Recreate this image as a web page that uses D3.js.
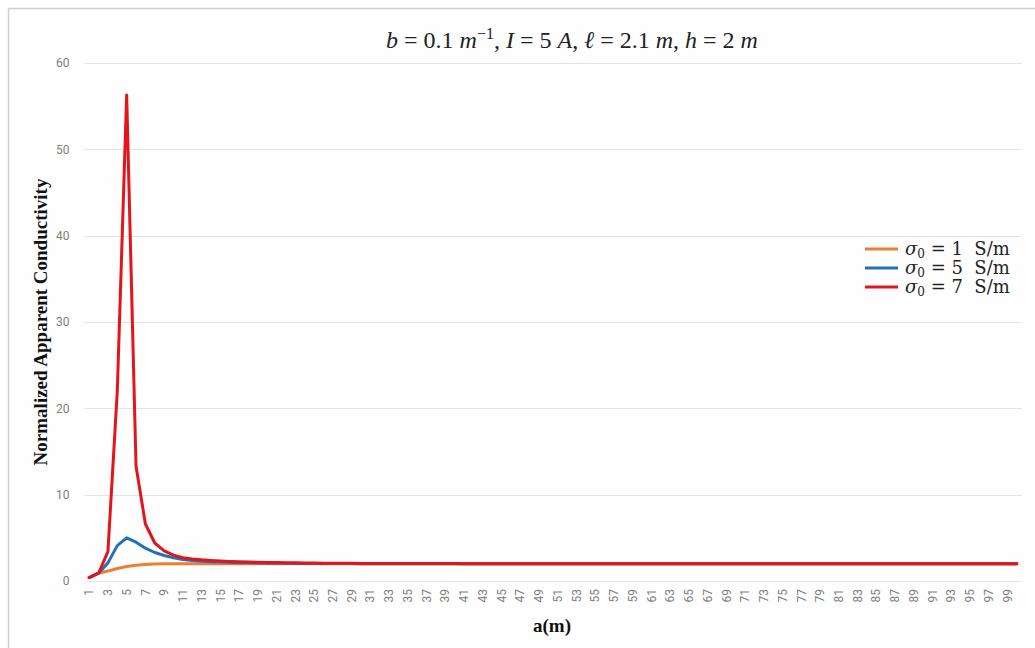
<!DOCTYPE html>
<html>
<head>
<meta charset="utf-8">
<script src="https://cdn.jsdelivr.net/npm/d3@7"></script>
<style>
  body { margin: 0; background: #fff; }
  svg { display: block; }
  .tick-label { font-family: "Liberation Sans Narrow", "Roboto", sans-serif; font-size: 12px; fill: #808080; }
</style>
</head>
<body>
<div id="chart"></div>
<script>
// a (m) from 1 to 100
const categories = [
  1,2,3,4,5,6,7,8,9,10,11,12,13,14,15,16,17,18,19,20,
  21,22,23,24,25,26,27,28,29,30,31,32,33,34,35,36,37,38,39,40,
  41,42,43,44,45,46,47,48,49,50,51,52,53,54,55,56,57,58,59,60,
  61,62,63,64,65,66,67,68,69,70,71,72,73,74,75,76,77,78,79,80,
  81,82,83,84,85,86,87,88,89,90,91,92,93,94,95,96,97,98,99,100
];

const sigma1 = [
  0.4,0.9,1.15,1.45,1.68,1.83,1.92,1.97,1.99,2.0,
  2.0,2.0,2.0,2.0,2.0,2.0,2.0,2.0,2.0,2.0,
  2.0,2.0,2.0,2.0,2.0,2.0,2.0,2.0,2.0,2.0,
  2.0,2.0,2.0,2.0,2.0,2.0,2.0,2.0,2.0,2.0,
  2.0,2.0,2.0,2.0,2.0,2.0,2.0,2.0,2.0,2.0,
  2.0,2.0,2.0,2.0,2.0,2.0,2.0,2.0,2.0,2.0,
  2.0,2.0,2.0,2.0,2.0,2.0,2.0,2.0,2.0,2.0,
  2.0,2.0,2.0,2.0,2.0,2.0,2.0,2.0,2.0,2.0,
  2.0,2.0,2.0,2.0,2.0,2.0,2.0,2.0,2.0,2.0,
  2.0,2.0,2.0,2.0,2.0,2.0,2.0,2.0,2.0,2.0
];

const sigma5 = [
  0.4,0.9,2.1,4.1,5.0,4.5,3.8,3.3,2.95,2.7,
  2.5,2.38,2.3,2.24,2.19,2.15,2.12,2.1,2.08,2.07,
  2.06,2.05,2.04,2.04,2.03,2.03,2.02,2.02,2.02,2.01,
  2.01,2.01,2.01,2.01,2.01,2.01,2.01,2.01,2.01,2.01,
  2.0,2.0,2.0,2.0,2.0,2.0,2.0,2.0,2.0,2.0,
  2.0,2.0,2.0,2.0,2.0,2.0,2.0,2.0,2.0,2.0,
  2.0,2.0,2.0,2.0,2.0,2.0,2.0,2.0,2.0,2.0,
  2.0,2.0,2.0,2.0,2.0,2.0,2.0,2.0,2.0,2.0,
  2.0,2.0,2.0,2.0,2.0,2.0,2.0,2.0,2.0,2.0,
  2.0,2.0,2.0,2.0,2.0,2.0,2.0,2.0,2.0,2.0
];

const sigma7 = [
  0.4,0.9,3.4,22.0,56.3,13.3,6.6,4.4,3.5,3.0,
  2.7,2.55,2.45,2.38,2.32,2.27,2.23,2.2,2.17,2.15,
  2.13,2.11,2.1,2.09,2.08,2.07,2.06,2.05,2.05,2.04,
  2.04,2.03,2.03,2.03,2.03,2.02,2.02,2.02,2.02,2.02,
  2.01,2.01,2.01,2.01,2.01,2.01,2.01,2.01,2.01,2.01,
  2.01,2.01,2.01,2.01,2.01,2.01,2.01,2.01,2.01,2.01,
  2.0,2.0,2.0,2.0,2.0,2.0,2.0,2.0,2.0,2.0,
  2.0,2.0,2.0,2.0,2.0,2.0,2.0,2.0,2.0,2.0,
  2.0,2.0,2.0,2.0,2.0,2.0,2.0,2.0,2.0,2.0,
  2.0,2.0,2.0,2.0,2.0,2.0,2.0,2.0,2.0,2.0
];

const yTicks = [0, 10, 20, 30, 40, 50, 60];

const series = [
  { sigma: "1", values: sigma1, color: "#ed7d31" },
  { sigma: "5", values: sigma5, color: "#2372b9" },
  { sigma: "7", values: sigma7, color: "#e3141c" }
];

const width = 1035;
const height = 648;
const margin = { top: 63, right: 13.5, bottom: 67, left: 84.5 };

const svg = d3.select("#chart")
  .append("svg")
  .attr("width", width)
  .attr("height", height);

// chart frame (only top and left edges are inside the picture)
svg.append("rect")
  .attr("x", 8.5)
  .attr("y", 8.5)
  .attr("width", width + 10)
  .attr("height", height + 10)
  .attr("fill", "#fefefe")
  .attr("stroke", "#cfcfcf")
  .attr("stroke-width", 1.5);

const x = d3.scaleBand()
  .domain(categories)
  .range([margin.left, width - margin.right]);

const y = d3.scaleLinear()
  .domain([0, 60])
  .range([height - margin.bottom, margin.top]);

// gridlines
svg.append("g")
  .selectAll("line")
  .data(yTicks)
  .enter().append("line")
  .attr("x1", margin.left)
  .attr("x2", width - margin.right)
  .attr("y1", d => Math.round(y(d)) + 0.5)
  .attr("y2", d => Math.round(y(d)) + 0.5)
  .style("stroke", "#e4e4e4")
  .style("stroke-width", 1);

// y axis labels
const yAxis = svg.append("g")
  .attr("transform", `translate(${margin.left},0)`)
  .call(d3.axisLeft(y).tickValues(yTicks).tickSize(0).tickPadding(15));
yAxis.select(".domain").remove();
yAxis.selectAll("text")
  .attr("class", "tick-label")
  .attr("fill", null);

// x axis labels, every other category, rotated
const xAxis = svg.append("g")
  .attr("transform", `translate(0,${height - margin.bottom})`)
  .call(d3.axisBottom(x).tickValues(categories.filter(d => d % 2 === 1)).tickSize(0));
xAxis.select(".domain").remove();
xAxis.selectAll("text")
  .attr("class", "tick-label")
  .attr("fill", null)
  .attr("transform", "rotate(-90)")
  .attr("text-anchor", "end")
  .attr("x", -8)
  .attr("y", 0)
  .attr("dy", "0.35em");

// lines
const line = d3.line()
  .x((d, i) => x(categories[i]) + x.bandwidth() / 2)
  .y(d => y(d));

svg.append("g")
  .selectAll("path")
  .data(series)
  .enter().append("path")
  .attr("d", d => line(d.values))
  .style("fill", "none")
  .style("stroke", d => d.color)
  .style("stroke-width", 3)
  .style("stroke-linejoin", "round")
  .style("stroke-linecap", "round");

// title
const title = svg.append("text")
  .attr("x", 572)
  .attr("y", 48)
  .attr("text-anchor", "middle")
  .style("font-family", "'Liberation Serif', 'DejaVu Serif', serif")
  .style("font-size", "24px")
  .style("fill", "#222");
const titleParts = [
  ["b", true], [" = 0.1 ", false], ["m", true], ["−1", false, true], [", ", false],
  ["I", true], [" = 5 ", false], ["A", true], [", ", false],
  ["ℓ", true], [" = 2.1 ", false], ["m", true], [", ", false],
  ["h", true], [" = 2 ", false], ["m", true]
];
titleParts.forEach((p, i) => {
  const t = title.append("tspan")
    .attr("xml:space", "preserve")
    .text(p[0])
    .style("font-style", p[1] ? "italic" : "normal");
  if (p[2]) {
    t.attr("dy", -9).style("font-size", "16px");
  } else if (i > 0 && titleParts[i - 1][2]) {
    t.attr("dy", 9);
  }
});

// axis titles
svg.append("text")
  .attr("transform", `translate(47,${(margin.top + height - margin.bottom) / 2}) rotate(-90)`)
  .attr("text-anchor", "middle")
  .style("font-family", "'Liberation Serif', 'DejaVu Serif', serif")
  .style("font-weight", "bold")
  .style("font-size", "19px")
  .style("fill", "#111")
  .text("Normalized Apparent Conductivity");

svg.append("text")
  .attr("x", 552)
  .attr("y", 632)
  .attr("text-anchor", "middle")
  .style("font-family", "'Liberation Serif', 'DejaVu Serif', serif")
  .style("font-weight", "bold")
  .style("font-size", "19px")
  .style("fill", "#111")
  .text("a(m)");

// legend
const legend = svg.append("g")
  .selectAll("g")
  .data(series)
  .enter().append("g")
  .attr("transform", (d, i) => `translate(865,${249 + i * 19})`);

legend.append("line")
  .attr("x1", 0)
  .attr("x2", 33)
  .style("stroke", d => d.color)
  .style("stroke-width", 3);

const legendText = legend.append("text")
  .attr("x", 40)
  .attr("y", 6)
  .style("font-family", "'DejaVu Serif', 'Liberation Serif', serif")
  .style("font-size", "18px")
  .style("fill", "#222");
legendText.append("tspan").style("font-style", "italic").text("σ");
legendText.append("tspan").attr("dy", 3).style("font-size", "12px").text("0");
legendText.append("tspan").attr("dy", -3).attr("xml:space", "preserve").text(d => " = " + d.sigma + "  S/m");
</script>
</body>
</html>
